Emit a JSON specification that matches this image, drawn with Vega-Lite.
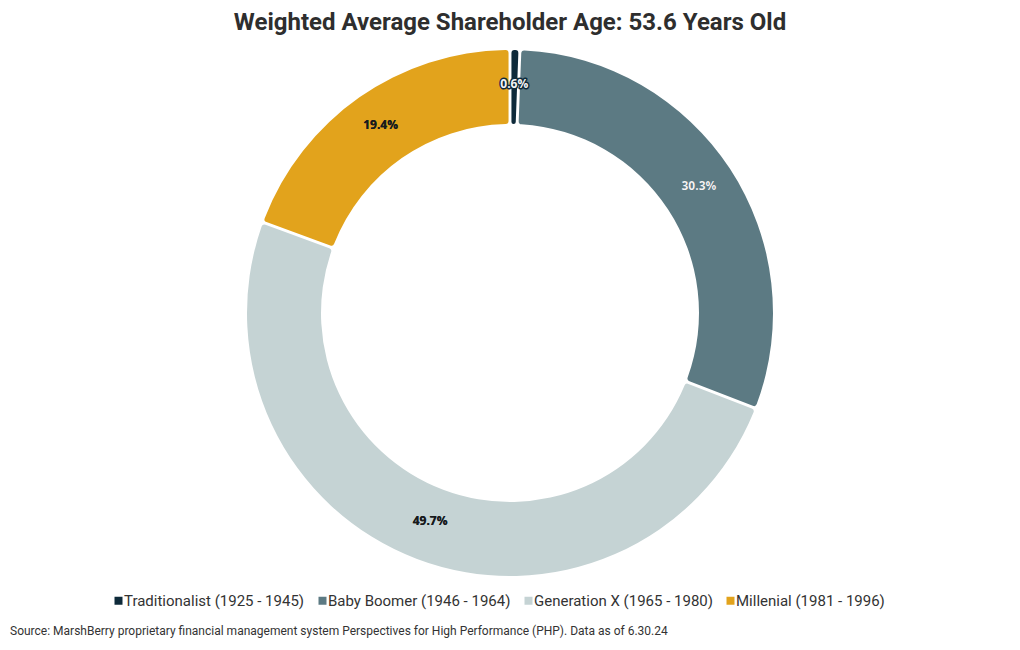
{
  "$schema": "https://vega.github.io/schema/vega-lite/v6.json",
  "background": "white",
  "padding": {"left": 5, "right": 5, "top": 11, "bottom": 5},
  "title": {"text": "Source: MarshBerry proprietary financial management system Perspectives for High Performance (PHP). Data as of 6.30.24", "orient": "bottom", "anchor": "start", "fontSize": 12, "fontWeight": "normal", "color": "#333333", "font": "Roboto", "offset": 17, "dx": 5},
  "config": {"view": {"stroke": null}},
  "vconcat": [
    {
      "width": 1010,
      "height": 536,
      "title": {"text": "Weighted Average Shareholder Age: 53.6 Years Old", "fontSize": 24, "font": "Roboto", "fontWeight": "bold", "color": "#2e2e2e", "anchor": "middle", "offset": 10},
      "data": {"values": [
        {"i": 1, "generation": "Traditionalist (1925 - 1945)", "share": 0.006},
        {"i": 2, "generation": "Baby Boomer (1946 - 1964)", "share": 0.303},
        {"i": 3, "generation": "Generation X (1965 - 1980)", "share": 0.497},
        {"i": 4, "generation": "Millenial (1981 - 1996)", "share": 0.194}
      ]},
      "encoding": {
        "theta": {"field": "share", "type": "quantitative", "stack": true},
        "order": {"field": "i", "type": "quantitative"}
      },
      "layer": [
        {
          "mark": {"type": "arc", "outerRadius": 263, "innerRadius": 189, "padAngle": 0.009, "cornerRadius": 3},
          "encoding": {
            "color": {
              "field": "generation", "type": "nominal",
              "scale": {"domain": ["Traditionalist (1925 - 1945)", "Baby Boomer (1946 - 1964)", "Generation X (1965 - 1980)", "Millenial (1981 - 1996)"],
                        "range": ["#0e2a3a", "#5c7a83", "#c5d3d4", "#e2a31c"]},
              "legend": {"orient": "none", "legendX": 106, "legendY": 548, "direction": "horizontal", "title": null, "labelFontSize": 15, "labelFont": "Roboto", "labelColor": "#333333", "labelLimit": 400, "labelOffset": -2, "symbolType": "square", "symbolSize": 64, "columnPadding": 10, "symbolStrokeWidth": 0}
            }
          }
        },
        {
          "mark": {"type": "text", "radius": 226, "dy": -3, "fontWeight": "bold", "fontSize": 12, "font": "Open Sans", "stroke": "#0e2a3a", "strokeWidth": 3, "strokeJoin": "round"},
          "encoding": {
            "text": {"field": "share", "type": "quantitative", "format": ".1%"},
            "strokeOpacity": {"condition": {"test": "datum.generation === 'Traditionalist (1925 - 1945)'", "value": 1}, "value": 0},
            "color": {"value": "#0e2a3a"}
          }
        },
        {
          "mark": {"type": "text", "radius": 226, "dy": -3, "fontWeight": "bold", "fontSize": 12, "font": "Open Sans"},
          "encoding": {
            "text": {"field": "share", "type": "quantitative", "format": ".1%"},
            "color": {"condition": {"test": "indexof(['Traditionalist (1925 - 1945)', 'Baby Boomer (1946 - 1964)'], datum.generation) >= 0", "value": "#f4f4f4"}, "value": "#1a1a1a"}
          }
        }
      ]
    }
  ]
}
